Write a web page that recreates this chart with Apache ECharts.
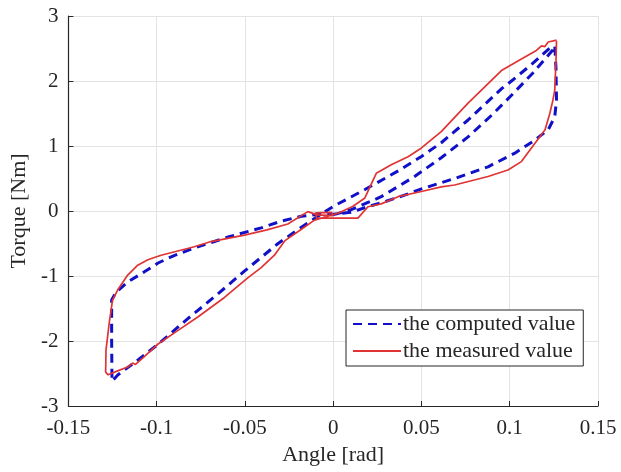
<!DOCTYPE html>
<html>
<head>
<meta charset="utf-8">
<script src="https://cdn.jsdelivr.net/npm/echarts@6/dist/echarts.min.js"></script>
<style>
  html, body { margin: 0; padding: 0; background: #fff; }
  #chart { width: 621px; height: 472px; }
</style>
</head>
<body>
<div id="chart"></div>
<script>
// 计算值曲线（按绘制顺序）
var computedAngle = [0.0, 0.0102, 0.0272, 0.0461, 0.0612, 0.0764, 0.09, 0.101, 0.113, 0.1245, 0.1255,
    0.1262, 0.1265, 0.1255, 0.1218, 0.1142, 0.1029, 0.0877, 0.0688, 0.05, 0.04, 0.03, 0.02, 0.01, 0.0,
    -0.008, -0.018, -0.03, -0.0408, -0.0595, -0.0788, -0.0905, -0.0992, -0.1072, -0.1163, -0.123, -0.1255,
    -0.1255, -0.1253,
    -0.1219, -0.11, -0.0992, -0.0825, -0.0655, -0.0505, -0.0312, -0.018, -0.008, 0.0, 0.018, 0.037, 0.05,
    0.0612, 0.0764, 0.0953, 0.101, 0.113, 0.1245];
var computedTorque = [-0.06, 0.02, 0.22, 0.53, 0.82, 1.14, 1.48, 1.78, 2.12, 2.48, 2.55,
    2.2, 1.71, 1.45, 1.25, 1.09, 0.89, 0.68, 0.50, 0.34, 0.24, 0.15, 0.07, -0.02, -0.05,
    -0.05, -0.08, -0.16, -0.26, -0.40, -0.57, -0.69, -0.80, -0.94, -1.09, -1.25, -1.37,
    -2.0, -2.62,
    -2.52, -2.28, -2.05, -1.66, -1.28, -0.93, -0.50, -0.25, -0.07, 0.07, 0.33, 0.62, 0.84,
    1.05, 1.40, 1.88, 2.0, 2.27, 2.55];

// 测量值曲线
var measuredAngle = [0.1265, 0.1262, 0.1255, 0.1245, 0.1227, 0.12, 0.1142, 0.1066, 0.099, 0.0877, 0.0688,
    0.0612, 0.05, 0.0367, 0.0272, 0.0197, 0.014, 0.001, -0.0095, -0.01, -0.001, 0.0, -0.009, -0.0144,
    -0.0257, -0.0375, -0.0503, -0.0692, -0.0787, -0.0975, -0.105, -0.111, -0.1164, -0.1222, -0.125,
    -0.1269, -0.1287, -0.1289, -0.1275, -0.1221, -0.1164, -0.1136, -0.112, -0.107, -0.0994, -0.0881,
    -0.0767, -0.0616, -0.0484, -0.0408, -0.0333, -0.0275, -0.018, -0.0106, 0.0027, 0.011, 0.0178,
    0.0244, 0.0329, 0.0424, 0.05, 0.0612, 0.0764, 0.0953, 0.1066, 0.1151, 0.118, 0.1199, 0.1218, 0.1265];
var measuredTorque = [2.62, 2.3, 1.86, 1.71, 1.50, 1.25, 1.04, 0.76, 0.63, 0.53, 0.40,
    0.37, 0.30, 0.22, 0.11, 0.066, -0.11, -0.11, -0.105, -0.03, -0.02, -0.07, -0.06, -0.01,
    -0.20, -0.29, -0.37, -0.47, -0.55, -0.68, -0.75, -0.84, -0.985, -1.22, -1.37,
    -1.73, -2.14, -2.48, -2.52, -2.46, -2.40, -2.34, -2.36, -2.24, -2.05, -1.84,
    -1.63, -1.33, -1.03, -0.87, -0.68, -0.46, -0.28, -0.14, -0.035, 0.07, 0.195,
    0.58, 0.71, 0.835, 0.97, 1.22, 1.66, 2.16, 2.34, 2.47, 2.54, 2.53, 2.60, 2.63];

var seriesNames = ['the computed value', 'the measured value'];

function pairs(xs, ys) {
    var out = [];
    for (var i = 0; i < xs.length; i++) out.push([xs[i], ys[i]]);
    return out;
}

var font = 'Liberation Serif, Times New Roman, serif';
var dark = '#262626';

var myChart = echarts.init(document.getElementById('chart'));
var option = {
    animation: false,
    backgroundColor: '#fff',
    grid: { left: 68, right: 23, top: 16, bottom: 66 },
    xAxis: {
        type: 'value', min: -0.15, max: 0.15, interval: 0.05,
        name: 'Angle [rad]', nameLocation: 'middle', nameGap: 38,
        nameTextStyle: { fontFamily: font, fontSize: 22, color: dark },
        axisLine: { onZero: false, lineStyle: { color: dark, width: 1.2 } },
        axisTick: { inside: true, length: 5, lineStyle: { color: dark } },
        axisLabel: {
            fontFamily: font, fontSize: 21, color: dark, margin: 12,
            formatter: function (v) { return String(Math.round(v * 100) / 100); }
        },
        splitLine: { show: true, lineStyle: { color: '#e3e3e3', width: 1 } }
    },
    yAxis: {
        type: 'value', min: -3, max: 3, interval: 1,
        name: 'Torque [Nm]', nameLocation: 'middle', nameGap: 33,
        nameTextStyle: { fontFamily: font, fontSize: 22, color: dark },
        axisLine: { show: true, onZero: false, lineStyle: { color: dark, width: 1.2 } },
        axisTick: { show: true, inside: true, length: 5, lineStyle: { color: dark } },
        axisLabel: { fontFamily: font, fontSize: 21, color: dark, margin: 10 },
        splitLine: { show: true, lineStyle: { color: '#e3e3e3', width: 1 } }
    },
    legend: {
        orient: 'vertical', left: 346, top: 310,
        backgroundColor: '#fff', borderColor: dark, borderWidth: 1,
        padding: [3, 8, 4, 6], itemGap: 5, itemWidth: 48, itemHeight: 12,
        itemStyle: { opacity: 0 },
        textStyle: { fontFamily: font, fontSize: 22, color: dark, padding: [0, 0, 0, -3] },
        data: seriesNames
    },
    series: [
        {
            name: seriesNames[0], type: 'line', showSymbol: false, symbol: 'none',
            data: pairs(computedAngle, computedTorque),
            lineStyle: { color: '#1010c8', width: 3, type: [9, 6] },
            itemStyle: { color: '#1010c8' }
        },
        {
            name: seriesNames[1], type: 'line', showSymbol: false, symbol: 'none',
            data: pairs(measuredAngle, measuredTorque),
            lineStyle: { color: '#e03434', width: 1.7 },
            itemStyle: { color: '#e03434' }
        }
    ]
};
myChart.setOption(option);
</script>
</body>
</html>
